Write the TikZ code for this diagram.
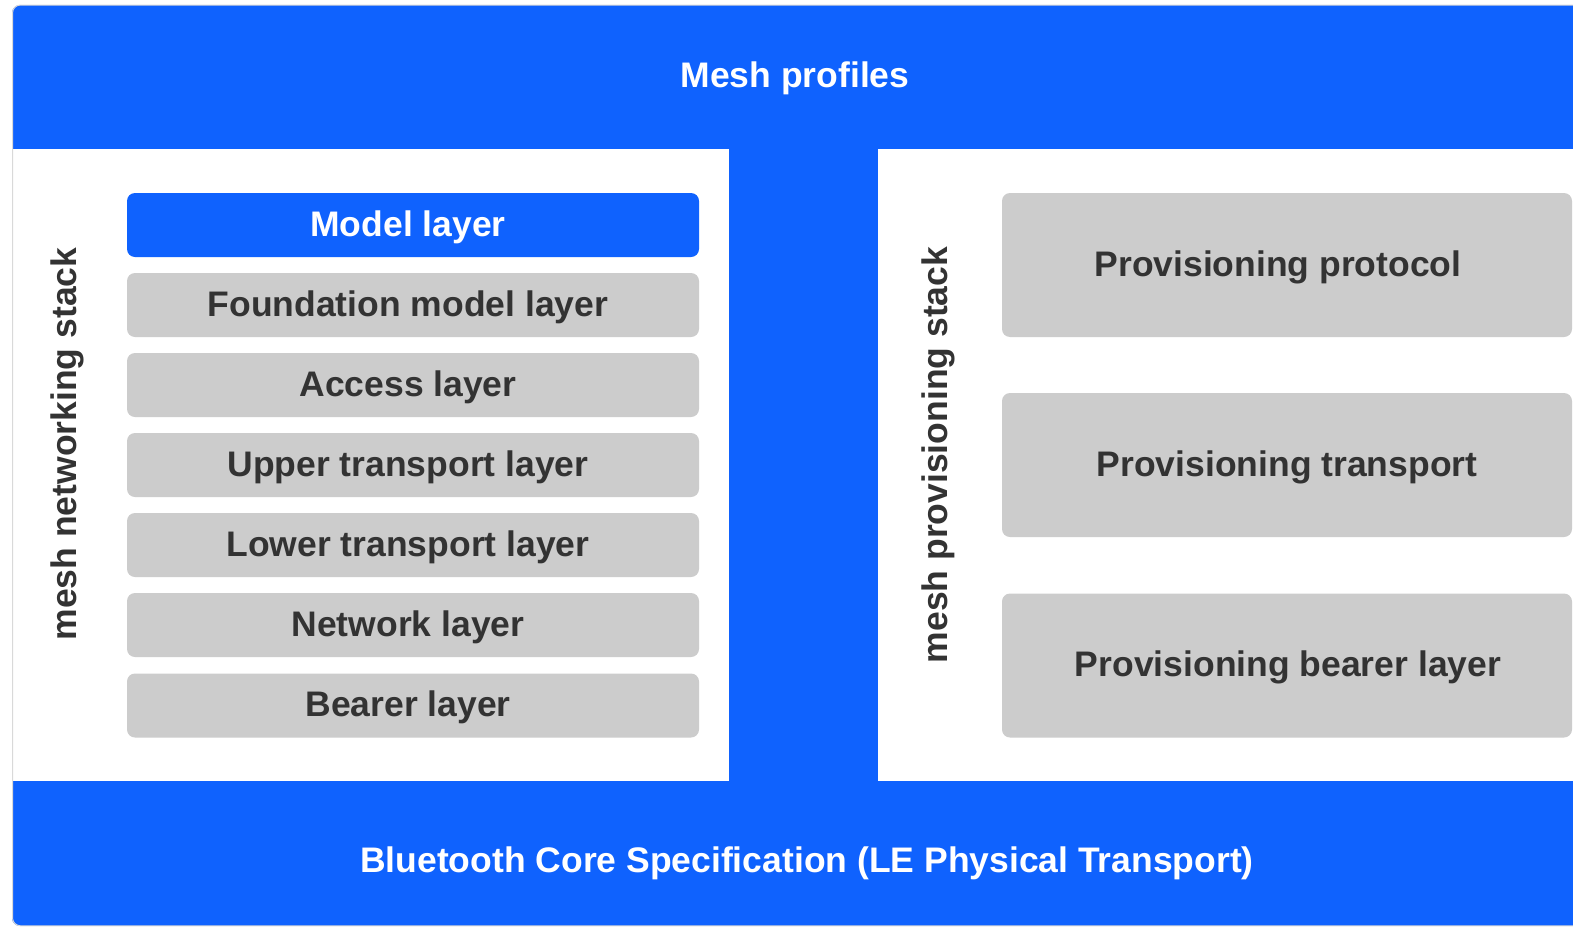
\documentclass[tikz,border=0pt]{standalone}
\usepackage{fontspec}
\setmainfont{Liberation Sans}
\definecolor{meshblue}{HTML}{0F62FE}
\definecolor{layergray}{HTML}{CCCCCC}
\definecolor{textdark}{HTML}{333333}
\definecolor{framegray}{HTML}{D9D9D9}
\begin{document}
\begin{tikzpicture}[x=1pt,y=-1pt,
  lbl/.style={font=\fontsize{35.5}{40}\selectfont\bfseries, inner sep=0pt, text=textdark,
     text height=25.4pt, text depth=3pt},
  layerbox/.style={fill=layergray, rounded corners=8pt, minimum width=572pt, minimum height=64pt, inner sep=0pt},
  provbox/.style={layerbox, minimum width=570pt, minimum height=144pt}]
\useasboundingbox (0,0) rectangle (1573,926);
\begin{scope}
  \clip[rounded corners=8pt] (12,5) rectangle (1600,926);
  \fill[meshblue] (12,5) rectangle (1600,926);
  \fill[white] (12,149) rectangle (729,781);
  \fill[white] (878,149) rectangle (1600,781);
\end{scope}
\draw[framegray, line width=1pt, rounded corners=8pt] (12.5,5) rectangle (1600,925.8);

\node[lbl, text=white, anchor=base, text height=, text depth=] (profiles) at (795,87) {Mesh profiles};
\node[lbl, text=white, anchor=base, text height=, text depth=] (core) at (807,872) {Bluetooth Core Specification (LE Physical Transport)};

\node[lbl, rotate=90, anchor=base, text height=, text depth=] (netstack) at (76,444) {mesh networking stack};
\node[lbl, rotate=90, anchor=base, text height=, text depth=] (provstack) at (947,455) {mesh provisioning stack};

\node[layerbox, fill=meshblue] (model) at (413,225) {};
\node[layerbox] (foundation) at (413,305) {};
\node[layerbox] (access) at (413,385) {};
\node[layerbox] (upper) at (413,465) {};
\node[layerbox] (lower) at (413,545) {};
\node[layerbox] (network) at (413,625) {};
\node[layerbox] (bearer) at (413,705.5) {};

\node[lbl, text=white] (model-t) at ([xshift=-5pt]model.center) {Model layer};
\node[lbl] (foundation-t) at ([xshift=-5pt]foundation.center) {Foundation model layer};
\node[lbl] (access-t) at ([xshift=-5pt]access.center) {Access layer};
\node[lbl] (upper-t) at ([xshift=-5pt]upper.center) {Upper transport layer};
\node[lbl] (lower-t) at ([xshift=-5pt]lower.center) {Lower transport layer};
\node[lbl] (network-t) at ([xshift=-5pt]network.center) {Network layer};
\node[lbl] (bearer-t) at ([xshift=-5pt]bearer.center) {Bearer layer};

\node[provbox] (protocol) at (1287,265) {};
\node[provbox] (ptransport) at (1287,465) {};
\node[provbox] (pbearer) at (1287,665.5) {};

\node[lbl] (protocol-t) at ([xshift=-9pt]protocol.center) {Provisioning protocol};
\node[lbl] (ptransport-t) at (ptransport.center) {Provisioning transport};
\node[lbl] (pbearer-t) at ([xshift=1pt]pbearer.center) {Provisioning bearer layer};
\end{tikzpicture}
\end{document}
